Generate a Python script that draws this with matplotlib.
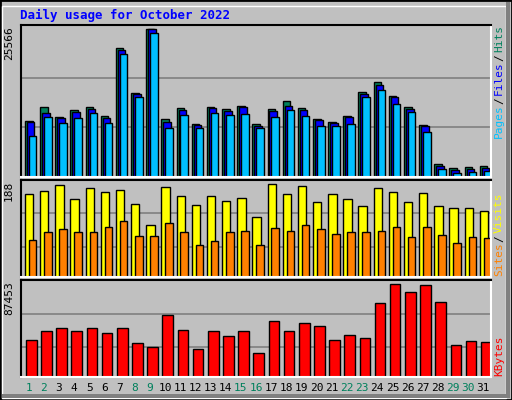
import matplotlib
matplotlib.use("Agg")
from matplotlib import pyplot as plt
from matplotlib.patches import Rectangle
import numpy as np

days = list(range(1, 32))
weekend = [1, 2, 8, 9, 15, 16, 22, 23, 29, 30]

hits = [9740, 12175, 10435, 11650, 12175, 10610, 22260, 14435, 25566, 10090,
        12000, 9215, 12175, 11825, 12350, 9215, 11825, 13215, 12000, 10090,
        9565, 10610, 14610, 16350, 13910, 12175, 9045, 2260, 1565, 1740, 1915]
files = [9565, 11130, 10260, 11300, 11825, 10260, 21910, 14260, 25560, 9565,
         11650, 9045, 12000, 11480, 12175, 8870, 11480, 12350, 11650, 9910,
         9390, 10435, 14260, 15825, 13740, 11825, 8870, 1915, 1220, 1390, 1565]
pages = [7130, 10435, 9390, 10260, 11130, 9390, 21215, 13740, 24870, 8520,
         10780, 8520, 11130, 10780, 10955, 8520, 10435, 11650, 10610, 8870,
         8870, 9215, 13740, 14955, 12695, 11305, 7825, 1390, 695, 870, 1045]
visits = [168, 174, 186, 157, 180, 172, 176, 147, 106, 182, 163, 145, 163, 153, 159,
          121, 188, 168, 184, 151, 168, 157, 143, 180, 172, 151, 170, 143, 139, 139, 133]
sites = [74, 92, 98, 90, 90, 102, 114, 82, 82, 110, 92, 65, 72, 92, 94,
         65, 100, 94, 106, 98, 86, 90, 90, 94, 102, 80, 102, 84, 69, 80, 78]
kbytes = [34790, 43410, 46280, 43410, 46280, 41490, 46280, 31920, 28090, 58730,
          44370, 26170, 43410, 38620, 43410, 22340, 52980, 43410, 51070, 48200,
          34790, 39580, 36710, 69260, 87453, 79800, 86500, 70220, 30000, 33830, 32880]

BG = "#C0C0C0"
W, H = 512, 400
fig = plt.figure(figsize=(W / 100, H / 100), dpi=100, facecolor=BG)
mono = "DejaVu Sans Mono"

# bevelled frame
fig.patches.append(Rectangle((0, 0), 1, 1, transform=fig.transFigure,
                             fill=False, ec="black", lw=2))
fig.patches.append(Rectangle((2 / W, 2 / H), (W - 8) / W, (H - 8) / H, transform=fig.transFigure,
                             fill=False, ec="white", lw=1))
fig.patches.append(Rectangle(((W - 6) / W, 2 / H), 4 / W, (H - 4) / H, transform=fig.transFigure,
                             color="#808080", lw=0))
fig.patches.append(Rectangle((2 / W, 2 / H), (W - 4) / W, 4 / H, transform=fig.transFigure,
                             color="#808080", lw=0))


def panel(top, bottom):
    ax = fig.add_axes([21 / W, 1 - bottom / H, 470 / W, (bottom - top) / H])
    ax.set_facecolor(BG)
    ax.set_xlim(0.5, 31.5)
    ax.set_xticks([])
    ax.set_yticks([])
    for s in ax.spines.values():
        s.set_color("black")
        s.set_linewidth(1.5)
    ax.spines["right"].set_color("white")
    ax.spines["bottom"].set_color("white")
    return ax


x = np.array(days)

# Hits / Files / Pages
ax1 = panel(25, 177)
ax1.set_ylim(0, 25566 * 151 / 147)
for v in (25566 / 3, 2 * 25566 / 3):
    ax1.axhline(v * 1.005, color="#808080", lw=1.2, zorder=0)
kw = dict(align="edge", ec="black", lw=1)
ax1.bar(x - 0.24, hits, 0.5, color="#00805C", **kw)
ax1.bar(x - 0.11, files, 0.5, color="#0000FF", **kw)
ax1.bar(x + 0.02, pages, 0.5, color="#00C0FF", **kw)

# Sites / Visits
ax2 = panel(180, 277)
ax2.set_ylim(0, 188 * 96 / 92)
for v in (188 * 30 / 92, 188 * 63 / 92):
    ax2.axhline(v, color="#808080", lw=1.2, zorder=0)
ax2.bar(x - 0.24, visits, 0.55, color="#FFFF00", **kw)
ax2.bar(x + 0.02, sites, 0.5, color="#FF8000", **kw)

# KBytes
ax3 = panel(280, 377)
ax3.set_ylim(0, 87453 * 95.3 / 91.3)
for v in (87453 * 29.3 / 91.3, 87453 * 62.3 / 91.3):
    ax3.axhline(v, color="#808080", lw=1.2, zorder=0)
ax3.bar(x - 0.17, kbytes, 0.7, color="#FF0000", **kw)

# day labels
for d in days:
    ax3.text(d, -0.11, str(d), transform=ax3.get_xaxis_transform(), ha="center", va="center",
             fontsize=8, family=mono, color="#00805C" if d in weekend else "black")

# max labels
for ax, lab in ((ax1, "25566"), (ax2, "188"), (ax3, "87453")):
    ax.text(-0.015, 0.99, lab, transform=ax.transAxes, rotation=90, ha="right", va="top",
            fontsize=8, family=mono)

fig.text(20 / W, 1 - 15 / H, "Daily usage for October 2022", color="#0000FF",
         fontsize=9, family=mono, fontweight="bold", va="center")


def side(parts, y_bottom):
    y = y_bottom
    for txt, col in parts:
        t = fig.text(499 / W, 1 - y / H, txt, rotation=90, ha="center", va="bottom",
                     color=col, fontsize=8, family=mono)
        y -= len(txt) * 6.2 + 3


side([("Pages", "#00C0FF"), ("/", "black"), ("Files", "#0000FF"), ("/", "black"),
      ("Hits", "#00805C")], 138)
side([("Sites", "#FF8000"), ("/", "black"), ("Visits", "#FFFF00")], 276)
side([("KBytes", "#FF0000")], 376)

fig.savefig("out.png", dpi=100, facecolor=BG)
